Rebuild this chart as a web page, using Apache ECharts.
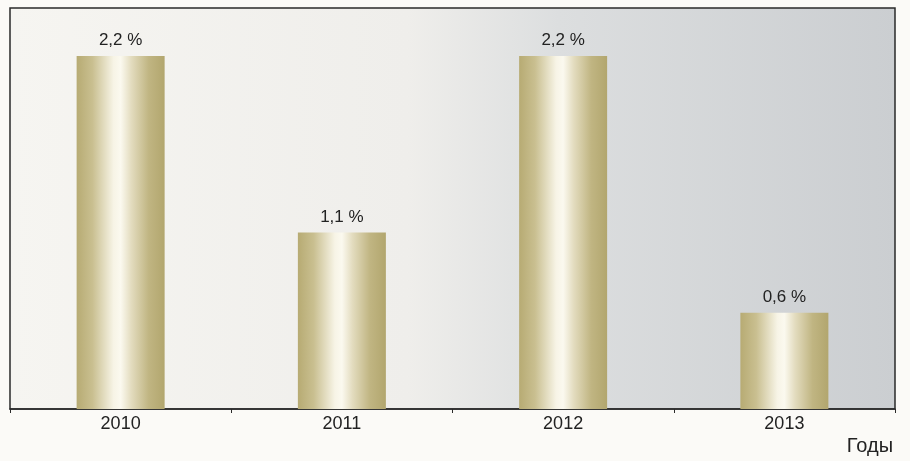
<!DOCTYPE html>
<html>
<head>
<meta charset="utf-8">
<script src="https://cdn.jsdelivr.net/npm/echarts@6/dist/echarts.min.js"></script>
<style>
  html, body { margin: 0; padding: 0; background: #fbfaf7; }
  #chart { width: 910px; height: 461px; }
</style>
</head>
<body>
<div id="chart"></div>
<script>
// Годы и значения показателя, %
const years = ['2010', '2011', '2012', '2013'];
const values = [2.2, 1.1, 2.2, 0.6];
const axisTitle = 'Годы';

const FONT = 'Arial, "Liberation Sans", sans-serif';

const goldFill = new echarts.graphic.LinearGradient(0, 0, 1, 0, [
  { offset: 0, color: '#b7ab73' },
  { offset: 0.18, color: '#c9bf90' },
  { offset: 0.42, color: '#f7f4e6' },
  { offset: 0.5, color: '#fbf9ef' },
  { offset: 0.62, color: '#e3dcbf' },
  { offset: 0.82, color: '#c0b582' },
  { offset: 1, color: '#b2a66e' }
]);

const plotBg = new echarts.graphic.LinearGradient(0, 0, 1, 0, [
  { offset: 0, color: '#f6f5f1' },
  { offset: 0.45, color: '#efeeeb' },
  { offset: 0.62, color: '#dcdedf' },
  { offset: 1, color: '#cbced1' }
]);

const chart = echarts.init(document.getElementById('chart'));
chart.setOption({
  backgroundColor: '#fbfaf7',
  animation: false,
  grid: {
    left: 10, right: 15, top: 8, bottom: 52,
    show: true,
    backgroundColor: plotBg,
    borderColor: '#2a2a2a',
    borderWidth: 1.5
  },
  xAxis: {
    type: 'category',
    data: years,
    name: axisTitle,
    nameLocation: 'end',
    nameGap: 0,
    nameTextStyle: {
      fontFamily: FONT,
      fontSize: 20, color: '#222',
      align: 'right', verticalAlign: 'top',
      padding: [27, 2, 0, 0]
    },
    axisLine: { lineStyle: { color: '#2a2a2a', width: 1.5 } },
    axisTick: { show: true, length: 4, lineStyle: { color: '#2a2a2a' } },
    axisLabel: {
      fontFamily: FONT,
      fontSize: 18, color: '#222', margin: 6
    }
  },
  yAxis: {
    type: 'value',
    min: 0, max: 2.5,
    show: false,
    splitLine: { show: false }
  },
  series: [{
    type: 'bar',
    data: values,
    barWidth: 88,
    itemStyle: { color: goldFill },
    label: {
      show: true,
      position: 'top',
      distance: 7,
      fontFamily: FONT,
      fontSize: 17,
      color: '#222',
      formatter: p => String(p.value).replace('.', ',') + ' %'
    }
  }]
});
</script>
</body>
</html>
